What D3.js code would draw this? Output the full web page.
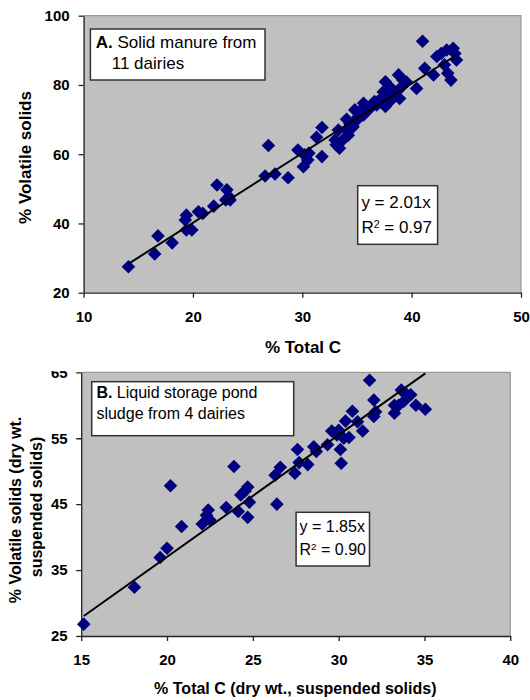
<!DOCTYPE html>
<html>
<head>
<meta charset="utf-8">
<script src="https://cdn.jsdelivr.net/npm/d3@7"></script>
<style>
  body { margin: 0; background: #fff; }
  text { font-family: "Liberation Sans", Arial, sans-serif; }
</style>
</head>
<body>
<div id="chart"></div>
<script>
// Panel A: solid manure, % total C vs % volatile solids
var solidC = [14.1, 16.5, 16.8, 18.1, 19.3, 19.4, 19.4, 19.9, 20.5, 20.9, 21.9, 22.2, 23.0, 23.1, 23.3, 23.4,
  26.6, 26.9, 27.5, 28.7, 29.6, 30.1, 30.2, 30.5, 30.6, 31.3, 31.8, 31.8, 33.0, 33.1, 33.3, 33.4, 33.7,
  34.05, 34.05, 34.2, 34.35, 34.65, 34.8, 35.0, 35.1, 35.3, 35.4, 35.6, 35.6, 35.7, 35.9, 36.2, 36.5,
  36.6, 36.8, 36.9, 37.25, 37.4, 37.55, 37.6, 37.6, 37.85, 38.0, 38.0, 38.3, 38.6, 38.8, 38.9, 39.1,
  39.2, 39.5, 40.45, 41.0, 41.2, 42.0, 42.3, 42.7, 43.0, 43.2, 43.3, 43.6, 43.8, 43.95, 44.1];
var solidVS = [27.5, 31.2, 36.4, 34.4, 41.0, 42.4, 38.1, 38.1, 43.4, 42.9, 45.0, 51.1, 46.8, 49.7, 47.7, 46.8,
  53.7, 62.5, 54.3, 53.2, 61.2, 56.4, 59.8, 58.3, 60.3, 64.9, 67.7, 59.3, 64.1, 62.7, 67.0, 61.7, 64.1,
  70.1, 67.0, 65.5, 68.9, 67.9, 72.8, 69.9, 70.8, 71.8, 72.8, 74.7, 71.3, 72.3, 73.5, 73.3, 74.7,
  75.2, 74.2, 75.2, 76.1, 78.0, 75.7, 80.9, 73.8, 77.1, 75.2, 79.5, 76.6, 78.0, 82.9, 76.1, 79.5,
  81.4, 80.9, 79.0, 92.6, 84.8, 82.9, 88.2, 89.1, 85.8, 90.1, 83.4, 81.4, 90.6, 89.1, 87.2];
var solidXTicks = [10, 20, 30, 40, 50];
var solidYTicks = [20, 40, 60, 80, 100];
var solidSlope = 2.01, solidR2 = "0.97";

// Panel B: liquid storage pond sludge
var pondC = [15.15, 18.1, 19.6, 20.0, 20.2, 20.85, 22.05, 22.3, 22.4, 22.5, 23.45, 23.9, 24.15, 24.3, 24.55,
  24.7, 24.8, 24.7, 26.4, 26.3, 26.6, 27.45, 27.6, 27.7, 28.2, 28.55, 28.7, 29.35, 29.6, 29.9, 30.0,
  30.1, 30.15, 30.3, 30.4, 30.6, 30.8, 31.1, 31.4, 31.8, 32.05, 32.05, 32.15, 33.25, 33.25, 33.5,
  33.65, 33.8, 33.9, 34.2, 34.5, 35.05];
var pondVS = [26.8, 32.4, 36.9, 38.3, 47.8, 41.6, 42.0, 43.3, 44.1, 42.6, 44.5, 50.7, 43.9, 46.4, 47.0,
  47.6, 45.3, 43.0, 45.0, 49.4, 50.6, 49.7, 53.3, 51.3, 51.0, 53.7, 53.0, 54.0, 56.1, 55.5, 56.2,
  53.3, 51.2, 55.0, 57.6, 55.1, 59.1, 57.5, 56.1, 63.8, 60.8, 58.3, 59.0, 60.0, 58.8, 60.0,
  62.3, 60.6, 61.8, 61.6, 60.0, 59.4];
var pondXTicks = [15, 20, 25, 30, 35, 40];
var pondYTicks = [25, 35, 45, 55, 65];
var pondSlope = 1.85, pondR2 = "0.90";

var svg = d3.select('#chart').append('svg')
  .attr('width', 530).attr('height', 700);

var diamond = function(r) {
  return 'M0,' + (-r) + 'L' + r + ',0L0,' + r + 'L' + (-r) + ',0Z';
};

function drawPanel(o) {
  var x = d3.scaleLinear().domain(d3.extent(o.xTicks)).range([o.left, o.right]);
  var y = d3.scaleLinear().domain(d3.extent(o.yTicks)).range([o.bottom, o.top]);
  var g = svg.append('g');

  g.append('rect')
    .attr('x', o.left).attr('y', o.top)
    .attr('width', o.right - o.left).attr('height', o.bottom - o.top)
    .attr('fill', '#c0c0c0');
  g.append('path')
    .attr('d', 'M' + o.left + ',' + o.top + 'H' + o.right + 'V' + o.bottom)
    .attr('fill', 'none').attr('stroke', '#999').attr('stroke-width', 1.2);

  var xa = g.append('g').attr('transform', 'translate(0,' + o.bottom + ')')
    .call(d3.axisBottom(x).tickValues(o.xTicks).tickSize(5).tickSizeOuter(0).tickPadding(o.xPad));
  var ya = g.append('g').attr('transform', 'translate(' + o.left + ',0)')
    .call(d3.axisLeft(y).tickValues(o.yTicks).tickSize(5).tickSizeOuter(0).tickPadding(o.yPad));
  [xa, ya].forEach(function(a) {
    a.select('.domain').attr('stroke', '#222').attr('stroke-width', 1.3);
    a.selectAll('.tick line').attr('stroke', '#222').attr('stroke-width', 1.3);
    a.selectAll('.tick text')
      .attr('fill', '#000')
      .style('font-family', '"Liberation Sans", Arial, sans-serif')
      .style('font-size', '15px').style('font-weight', 'bold');
  });
  if (o.clipTop) {
    // the top tick label is cut off in the original figure
    svg.append('clipPath').attr('id', 'clipB').append('rect')
      .attr('x', -200).attr('y', o.clipTop).attr('width', 800).attr('height', 700);
    ya.attr('clip-path', 'url(#clipB)');
  }

  var pts = o.xs.map(function(v, i) { return [v, o.ys[i]]; });
  g.selectAll('path.pt').data(pts).enter().append('path')
    .attr('class', 'pt')
    .attr('d', diamond(6.8))
    .attr('transform', function(d) { return 'translate(' + x(d[0]) + ',' + y(d[1]) + ')'; })
    .attr('fill', '#000080');

  var ext = d3.extent(o.xs);
  g.append('line')
    .attr('x1', x(ext[0])).attr('y1', y(o.slope * ext[0]))
    .attr('x2', x(ext[1])).attr('y2', y(o.slope * ext[1]))
    .attr('stroke', '#000').attr('stroke-width', 2);

  // axis titles
  g.append('text')
    .attr('x', o.xTitle[0]).attr('y', o.xTitle[1]).attr('dy', '0.35em')
    .attr('text-anchor', 'middle')
    .style('font-size', o.titleSize + 'px').style('font-weight', 'bold')
    .text(o.xLabel);
  o.yLabel.forEach(function(t, i) {
    g.append('text')
      .attr('transform', 'translate(' + o.yTitle[i][0] + ',' + o.yTitle[i][1] + ') rotate(-90)')
      .attr('dy', '0.35em').attr('text-anchor', 'middle')
      .style('font-size', o.titleSize + 'px').style('font-weight', 'bold')
      .text(t);
  });

  // label box
  var b = o.box;
  g.append('rect').attr('x', b.x).attr('y', b.y).attr('width', b.w).attr('height', b.h)
    .attr('fill', '#fff').attr('stroke', '#333').attr('stroke-width', 1.5);
  var t1 = g.append('text').attr('x', b.tx).attr('y', b.l1).attr('dy', '0.35em')
    .style('font-size', o.boxSize + 'px');
  t1.append('tspan').style('font-weight', 'bold').text(o.boxBold);
  t1.append('tspan').text(o.boxLine1);
  g.append('text').attr('x', b.tx2).attr('y', b.l2).attr('dy', '0.35em')
    .style('font-size', o.boxSize + 'px').text(o.boxLine2);

  // equation box
  var e = o.eq;
  g.append('rect').attr('x', e.x).attr('y', e.y).attr('width', e.w).attr('height', e.h)
    .attr('fill', '#fff').attr('stroke', '#333').attr('stroke-width', 1.5);
  g.append('text').attr('x', e.tx).attr('y', e.l1).attr('dy', '0.35em')
    .style('font-size', o.boxSize + 'px').text('y = ' + o.slope.toFixed(2) + 'x');
  var r = g.append('text').attr('x', e.tx).attr('y', e.l2).attr('dy', '0.35em')
    .style('font-size', o.boxSize + 'px');
  r.append('tspan').text('R');
  r.append('tspan').attr('dy', '-0.45em').style('font-size', (o.boxSize * 0.62) + 'px').text('2');
  r.append('tspan').attr('dy', '0.28em').text(' = ' + o.r2);
}

drawPanel({
  xs: solidC, ys: solidVS, xTicks: solidXTicks, yTicks: solidYTicks,
  slope: solidSlope, r2: solidR2,
  left: 83.6, right: 521, top: 15.7, bottom: 292.7,
  xPad: 14, yPad: 9,
  xLabel: '% Total C', xTitle: [303, 347],
  yLabel: ['% Volatile solids'], yTitle: [[25.3, 157.5]],
  titleSize: 17, boxSize: 17,
  boxBold: 'A.', boxLine1: ' Solid manure from', boxLine2: '11 dairies',
  box: { x: 90.4, y: 29, w: 174.6, h: 51, tx: 95.8, tx2: 111.7, l1: 41.7, l2: 62.7 },
  eq: { x: 357.7, y: 185.7, w: 79.9, h: 58.6, tx: 361.4, l1: 201.7, l2: 226.7 }
});

drawPanel({
  xs: pondC, ys: pondVS, xTicks: pondXTicks, yTicks: pondYTicks,
  slope: pondSlope, r2: pondR2,
  left: 81.2, right: 510.3, top: 372.3, bottom: 636,
  xPad: 13, yPad: 8.5, clipTop: 371,
  xLabel: '% Total C (dry wt., suspended solids)', xTitle: [295.3, 688.3],
  yLabel: ['% Volatile solids (dry wt.', 'suspended solids)'], yTitle: [[15.8, 510], [36.4, 507]],
  titleSize: 16, boxSize: 16,
  boxBold: 'B.', boxLine1: ' Liquid storage pond', boxLine2: 'sludge from 4 dairies',
  box: { x: 91.7, y: 381.7, w: 202, h: 54, tx: 96.4, tx2: 96.4, l1: 392.7, l2: 413.3 },
  eq: { x: 296.1, y: 512.3, w: 73.4, h: 53.7, tx: 299.5, l1: 526.7, l2: 549.3 }
});
</script>
</body>
</html>
